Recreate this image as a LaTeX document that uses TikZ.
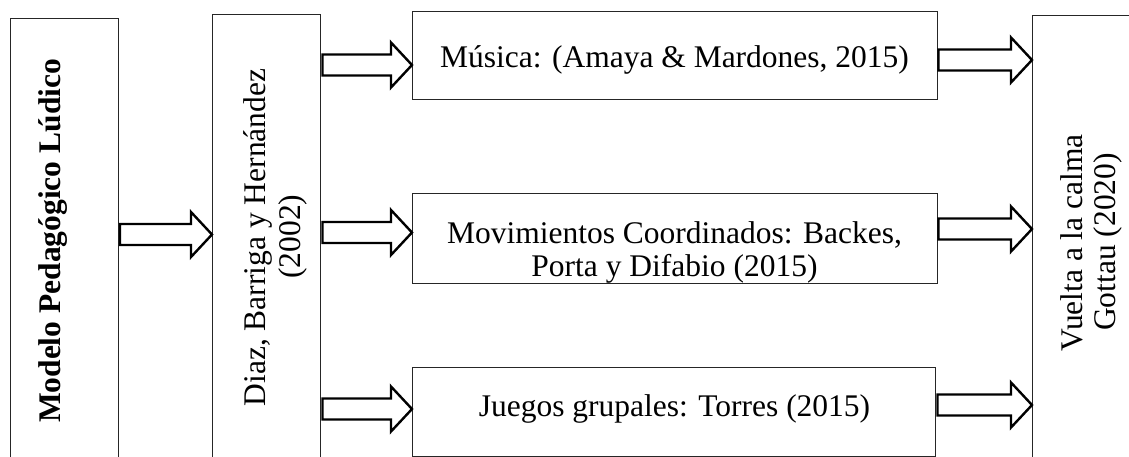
\documentclass[tikz,border=0pt]{standalone}
\usepackage{fontspec}
\setmainfont{Liberation Serif}
\usetikzlibrary{calc}
\newcommand\blockarr[2]{\draw[barrow] let \p1=(#1), \p2=(#2) in
  (\x1,\y1+10.5pt) -- (\x2-21pt,\y1+10.5pt) -- (\x2-21pt,\y1+22.5pt) -- (\x2,\y1)
  -- (\x2-21pt,\y1-22.5pt) -- (\x2-21pt,\y1-10.5pt) -- (\x1,\y1-10.5pt) -- cycle;}
\begin{document}
\begin{tikzpicture}[x=1pt,y=-1pt,
  box/.style={draw=black!85, line width=1pt, inner sep=0pt, outer sep=0pt},
  txt/.style={font=\fontsize{31.5}{36}\selectfont, inner sep=0pt, outer sep=0pt},
  barrow/.style={draw=black, line width=2.4pt, fill=white, line join=miter}]
\clip (0,0) rectangle (1129,457);
\fill[white] (0,0) rectangle (1129,457);
% boxes
\node[box, minimum width=107.5pt, minimum height=460pt] (b1) at (64.25,249) {};
\node[box, minimum width=108pt, minimum height=460pt] (b2) at (266,245) {};
\node[box, minimum width=525pt, minimum height=88pt] (m1) at (674.5,56) {};
\node[box, minimum width=525pt, minimum height=89pt] (m2) at (674.5,238.5) {};
\node[box, minimum width=523pt, minimum height=89pt] (m3) at (673.5,411.5) {};
\node[box, minimum width=120pt, minimum height=460pt] (b6) at (1092,246) {};
% texts
\node[txt, rotate=90, anchor=base] (t1) at (60,241) {\bfseries Modelo Pedagógico Lúdico};
\node[txt, rotate=90, anchor=base] (t2a) at (265,237.5) {Diaz, Barriga y Hernández};
\node[txt, rotate=90, anchor=base] (t2b) at (300,236.5) {(2002)};
\node[txt, anchor=base] (tm1) at (674.5,68) {Música: (Amaya \& Mardones, 2015)};
\node[txt, anchor=base] (tm2a) at (674.5,243) {Movimientos Coordinados: Backes,};
\node[txt, anchor=base] (tm2b) at (674.5,276) {Porta y Difabio (2015)};
\node[txt, anchor=base] (tm3) at (674.5,416) {Juegos grupales: Torres (2015)};
\node[txt, rotate=90, anchor=base] (t6a) at (1082,243) {Vuelta a la calma};
\node[txt, rotate=90, anchor=base] (t6b) at (1115,242) {Gottau (2020)};
% arrow rows
\coordinate (r1) at (0,234.5);
\coordinate (r2) at (0,65);
\coordinate (r3) at (0,232.5);
\coordinate (r4) at (0,409);
\coordinate (r5) at (0,60);
\coordinate (r6) at (0,229);
\coordinate (r7) at (0,405);
\coordinate (s1) at ($(b1.east |- r1)+(2,0)$);
\coordinate (e1) at (b2.west |- r1);
\coordinate (s2) at ($(b2.east |- r2)+(2.5,0)$);
\coordinate (e2) at (m1.west |- r2);
\coordinate (s3) at ($(b2.east |- r3)+(2.5,0)$);
\coordinate (e3) at (m2.west |- r3);
\coordinate (s4) at ($(b2.east |- r4)+(2.5,0)$);
\coordinate (e4) at (m3.west |- r4);
\coordinate (s5) at ($(m1.east |- r5)+(1.5,0)$);
\coordinate (e5) at (b6.west |- r5);
\coordinate (s6) at ($(m2.east |- r6)+(1.5,0)$);
\coordinate (e6) at (b6.west |- r6);
\coordinate (s7) at ($(m3.east |- r7)+(2.5,0)$);
\coordinate (e7) at (b6.west |- r7);
\blockarr{s1}{e1}
\blockarr{s2}{e2}
\blockarr{s3}{e3}
\blockarr{s4}{e4}
\blockarr{s5}{e5}
\blockarr{s6}{e6}
\blockarr{s7}{e7}
\end{tikzpicture}
\end{document}
